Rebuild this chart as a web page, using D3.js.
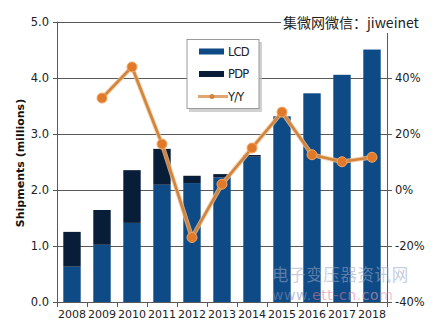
<!DOCTYPE html>
<html>
<head>
<meta charset="utf-8">
<script src="https://cdn.jsdelivr.net/npm/d3@7/dist/d3.min.js"></script>
<style>
  html, body { margin: 0; padding: 0; background: #fff; }
  svg { display: block; }
</style>
</head>
<body>
<svg id="chart" width="434" height="326"></svg>
<script>
// Shipments by year (millions of units) and year-over-year growth (%)
const years = ["2008","2009","2010","2011","2012","2013","2014","2015","2016","2017","2018"];
const lcd   = [0.63, 1.02, 1.41, 2.09, 2.12, 2.22, 2.59, 3.31, 3.72, 4.05, 4.50];
const pdp   = [0.62, 0.62, 0.94, 0.64, 0.13, 0.06, 0.03, 0.00, 0.00, 0.00, 0.00];
const yoy   = [null, 32.7, 43.8, 16.3, -17.0, 2.0, 14.9, 27.7, 12.5, 10.0, 11.6];
const leftTicks  = [0, 1, 2, 3, 4, 5];
const rightTicks = [-40, -20, 0, 20, 40];

const svg = d3.select("#chart");
const font = "DejaVu Sans, Verdana, sans-serif";

const plot = { left: 57, right: 387, top: 21.5, bottom: 302 };

const x = d3.scaleBand().domain(years)
  .range([plot.left, plot.right]).paddingInner(0.42).paddingOuter(0.21);
const y = d3.scaleLinear().domain([0, 5]).range([plot.bottom, plot.top]);
const y2 = d3.scaleLinear().domain([-40, 60]).range([plot.bottom, plot.top]);

const gridColor = "#5a5a5a";

// horizontal gridlines (with short ticks beyond both axes)
svg.append("g").selectAll("line").data(leftTicks).join("line")
  .attr("x1", plot.left - 4).attr("x2", plot.right + 5)
  .attr("y1", d => Math.round(y(d)) + 0.5).attr("y2", d => Math.round(y(d)) + 0.5)
  .attr("stroke", gridColor).attr("stroke-width", 1);

// stacked bars: LCD bottom, PDP on top
const bars = svg.append("g");
bars.selectAll("rect.lcd").data(years).join("rect").attr("class", "lcd")
  .attr("x", d => x(d)).attr("width", x.bandwidth())
  .attr("y", (d, i) => y(lcd[i])).attr("height", (d, i) => y(0) - y(lcd[i]))
  .attr("fill", "#0d4a86");
bars.selectAll("rect.pdp").data(years).join("rect").attr("class", "pdp")
  .attr("x", d => x(d)).attr("width", x.bandwidth())
  .attr("y", (d, i) => y(lcd[i] + pdp[i])).attr("height", (d, i) => y(lcd[i]) - y(lcd[i] + pdp[i]))
  .attr("fill", "#081e38");

// axes lines
const axisG = svg.append("g").attr("stroke", gridColor).attr("stroke-width", 1);
axisG.append("line").attr("x1", plot.left + 0.5).attr("x2", plot.left + 0.5)
  .attr("y1", plot.top).attr("y2", plot.bottom + 5);
axisG.append("line").attr("x1", plot.right + 0.5).attr("x2", plot.right + 0.5)
  .attr("y1", plot.top).attr("y2", plot.bottom + 5);
axisG.append("line").attr("x1", plot.left).attr("x2", plot.right)
  .attr("y1", Math.round(y(0)) + 0.5).attr("y2", Math.round(y(0)) + 0.5);
// category separators on the x axis
const step = x.step();
const bounds = d3.range(years.length + 1).map(i => x(years[0]) + x.bandwidth() / 2 - step / 2 + i * step);
axisG.selectAll("line.xt").data(bounds).join("line").attr("class", "xt")
  .attr("x1", d => Math.round(d) + 0.5).attr("x2", d => Math.round(d) + 0.5)
  .attr("y1", y(0)).attr("y2", y(0) + 5);

// left tick labels
svg.append("g").selectAll("text").data(leftTicks).join("text")
  .attr("x", plot.left - 8).attr("y", d => y(d)).attr("dy", "0.35em")
  .attr("text-anchor", "end").attr("font-family", font).attr("font-size", 11.5)
  .attr("fill", "#222").text(d => d3.format(".1f")(d));

// right tick labels
svg.append("g").selectAll("text").data(rightTicks).join("text")
  .attr("x", plot.right + 8).attr("y", d => y2(d)).attr("dy", "0.35em")
  .attr("text-anchor", "start").attr("font-family", font).attr("font-size", 11.5)
  .attr("fill", "#222").text(d => d + "%");

// x tick labels
svg.append("g").selectAll("text").data(years).join("text")
  .attr("x", d => x(d) + x.bandwidth() / 2).attr("y", 318)
  .attr("text-anchor", "middle").attr("font-family", font).attr("font-size", 11)
  .attr("fill", "#222").text(d => d);

// y axis title
svg.append("text")
  .attr("transform", "translate(24,163) rotate(-90)")
  .attr("text-anchor", "middle").attr("font-family", font).attr("font-size", 11)
  .attr("font-weight", "bold").attr("fill", "#111").text("Shipments (millions)");

// Y/Y growth line
const pts = years.map((d, i) => ({ d, v: yoy[i] })).filter(p => p.v !== null);
const line = d3.line().x(p => x(p.d) + x.bandwidth() / 2).y(p => y2(p.v));
svg.append("path").datum(pts).attr("d", line)
  .attr("fill", "none").attr("stroke", "#f2c08e").attr("stroke-width", 4.5)
  .attr("stroke-linejoin", "round").attr("opacity", 0.8);
svg.append("path").datum(pts).attr("d", line)
  .attr("fill", "none").attr("stroke", "#d0843e").attr("stroke-width", 2.6)
  .attr("stroke-linejoin", "round");
svg.append("g").selectAll("circle").data(pts).join("circle")
  .attr("cx", p => x(p.d) + x.bandwidth() / 2).attr("cy", p => y2(p.v))
  .attr("r", 5).attr("fill", "#e07a2a").attr("stroke", "#f2a866").attr("stroke-width", 1);

// legend
const lg = svg.append("g");
lg.append("rect").attr("x", 189).attr("y", 42).attr("width", 73).attr("height", 70)
  .attr("fill", "#bdbdbd").attr("opacity", 0.7);
lg.append("rect").attr("x", 187).attr("y", 39.5).attr("width", 72).attr("height", 69)
  .attr("fill", "#fff").attr("stroke", "#9a9a9a").attr("stroke-width", 1);
const legendItems = [
  { label: "LCD", color: "#0d4a86", type: "bar" },
  { label: "PDP", color: "#081e38", type: "bar" },
  { label: "Y/Y", color: "#d0843e", type: "line" }
];
legendItems.forEach((it, i) => {
  const cy = 51.5 + i * 22.5;
  if (it.type === "bar") {
    lg.append("rect").attr("x", 199).attr("y", cy - 3).attr("width", 25).attr("height", 6).attr("fill", it.color);
  } else {
    lg.append("line").attr("x1", 198).attr("x2", 228).attr("y1", cy).attr("y2", cy)
      .attr("stroke", "#e0a570").attr("stroke-width", 3);
    lg.append("circle").attr("cx", 212).attr("cy", cy).attr("r", 2.5).attr("fill", "#d0843e");
  }
  lg.append("text").attr("x", 228).attr("y", cy).attr("dy", "0.36em")
    .attr("font-family", font).attr("font-size", 11.5).attr("letter-spacing", "-0.8")
    .attr("fill", "#222").text(it.label);
});

// source tag at the top right
svg.append("rect").attr("x", 281).attr("y", 10).attr("width", 153).attr("height", 23).attr("fill", "#fff");
svg.append("text").attr("x", 283).attr("y", 27.5)
  .attr("font-family", "Noto Sans CJK SC, sans-serif").attr("font-size", 14)
  .attr("fill", "#222").text("集微网微信：jiweinet");

// site mark at the bottom right
const wm = svg.append("g").attr("opacity", 0.55);
wm.append("text").attr("x", 272).attr("y", 281)
  .attr("font-family", "Noto Sans CJK SC, sans-serif").attr("font-size", 16.5)
  .attr("fill", "#9aa7c4").attr("letter-spacing", "0.6").text("电子变压器资讯网");
const wt = wm.append("text").attr("x", 272).attr("y", 300)
  .attr("font-family", font).attr("font-size", 14).attr("letter-spacing", "0.6");
wt.append("tspan").attr("fill", "#8090b8").text("www.");
wt.append("tspan").attr("fill", "#e07a90").text("ett-cn");
wt.append("tspan").attr("fill", "#e3a0b0").text(".com");
</script>
</body>
</html>
